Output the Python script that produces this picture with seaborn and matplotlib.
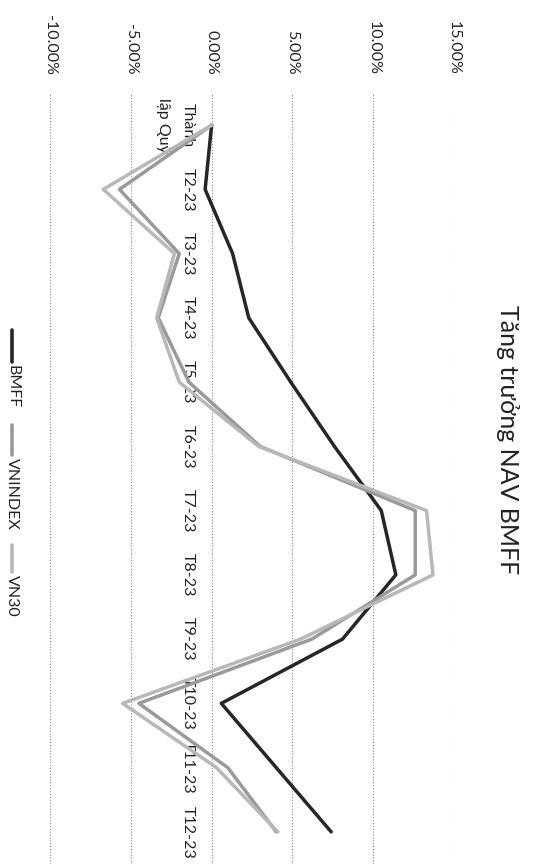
import numpy as np
import pandas as pd
import matplotlib
matplotlib.use("Agg")
import matplotlib.pyplot as plt
import seaborn as sns
from matplotlib.lines import Line2D

# ---- data (cumulative NAV growth, %) ----
categories = ["Thành\nlập Quỹ", "T2-23", "T3-23", "T4-23", "T5-23", "T6-23",
              "T7-23", "T8-23", "T9-23", "T10-23", "T11-23", "T12-23"]
bmff = [0.0, -0.4, 1.3, 2.3, 4.9, 7.6, 10.5, 11.4, 8.1, 0.6, 4.0, 7.4]
vnindex = [0.0, -5.7, -2.0, -3.3, -1.4, 3.0, 12.6, 12.6, 6.2, -4.5, 1.0, 4.0]
vn30 = [0.0, -6.7, -2.3, -3.4, -2.0, 2.9, 13.3, 13.7, 5.5, -5.5, 0.3, 4.1]
series_names = ["BMFF", "VNINDEX", "VN30"]
value_ticks = [-10, -5, 0, 5, 10, 15]
title = "Tăng trưởng NAV BMFF"

sns.set_theme(style="white")
plt.rcParams['font.family'] = ['Lato', 'DejaVu Sans']

W, H = 533, 866
fig = plt.figure(figsize=(W / 100, H / 100), dpi=100)
fig.patch.set_facecolor("white")
ax = fig.add_axes([50 / W, 1 - 864 / H, (454 - 50) / W, (864 - 93) / H])

rows = []
for name, vals in zip(series_names, [bmff, vnindex, vn30]):
    for i, v in enumerate(vals):
        rows.append({"series": name, "pos": i, "value": v})
df = pd.DataFrame(rows)
colors = {"BMFF": "#262626", "VNINDEX": "#9a9a9a", "VN30": "#b8b8b8"}

sns.lineplot(data=df, x="value", y="pos", hue="series", hue_order=series_names,
             palette=colors, sort=False, estimator=None, orient="y",
             legend=False, ax=ax, linewidth=2.5)

ax.set_xlim(-10, 15)
ax.set_ylim(11.5, -0.5)
ax.set_xlabel("")
ax.set_ylabel("")

# category axis placed at value 0 (set position before labels)
ax.spines['left'].set_position(('data', 0))
ax.spines['left'].set_color('none')
for s in ['right', 'top', 'bottom']:
    ax.spines[s].set_visible(False)

# value axis (top of the rotated chart)
ax.set_xticks(value_ticks)
ax.set_xticklabels([f"{v:.2f}%" for v in value_ticks])
ax.xaxis.tick_top()
ax.tick_params(axis='x', length=0, pad=13, labelsize=11.5, labelrotation=-90,
               colors="#222222")

ax.set_yticks(range(len(categories)))
ax.tick_params(axis='y', length=0, pad=12, labelsize=11.5, colors="#222222")
ax.set_yticklabels(categories, rotation=-90, va='center', ha='right',
                   multialignment='center', linespacing=2.0,
                   fontsize=11.5, color="#222222")

ax.grid(axis='x', color='#8c8c8c', linestyle=(0, (1, 1.6)), linewidth=0.8)
ax.grid(axis='y', visible=False)
ax.set_axisbelow(True)

# title (rotated)
fig.text(507 / W, 1 - 440 / H, title, rotation=-90, ha='center', va='center',
         fontsize=18, color="#222222")

# legend (rotated, manual)
def legend_item(y0, ylen, label, color, lw):
    x = 12 / W
    fig.add_artist(Line2D([x, x], [1 - y0 / H, 1 - (y0 + ylen) / H],
                          transform=fig.transFigure, color=color, linewidth=lw))
    fig.text(x, 1 - (y0 + ylen + 3) / H, label, rotation=-90, ha='center',
             va='top', fontsize=11.5, color="#222222")

legend_item(330, 32, "BMFF", colors["BMFF"], 2.6)
legend_item(425, 30, "VNINDEX", colors["VNINDEX"], 2.6)
legend_item(545, 27, "VN30", colors["VN30"], 2.6)

fig.savefig("out.png", dpi=100, facecolor="white")
